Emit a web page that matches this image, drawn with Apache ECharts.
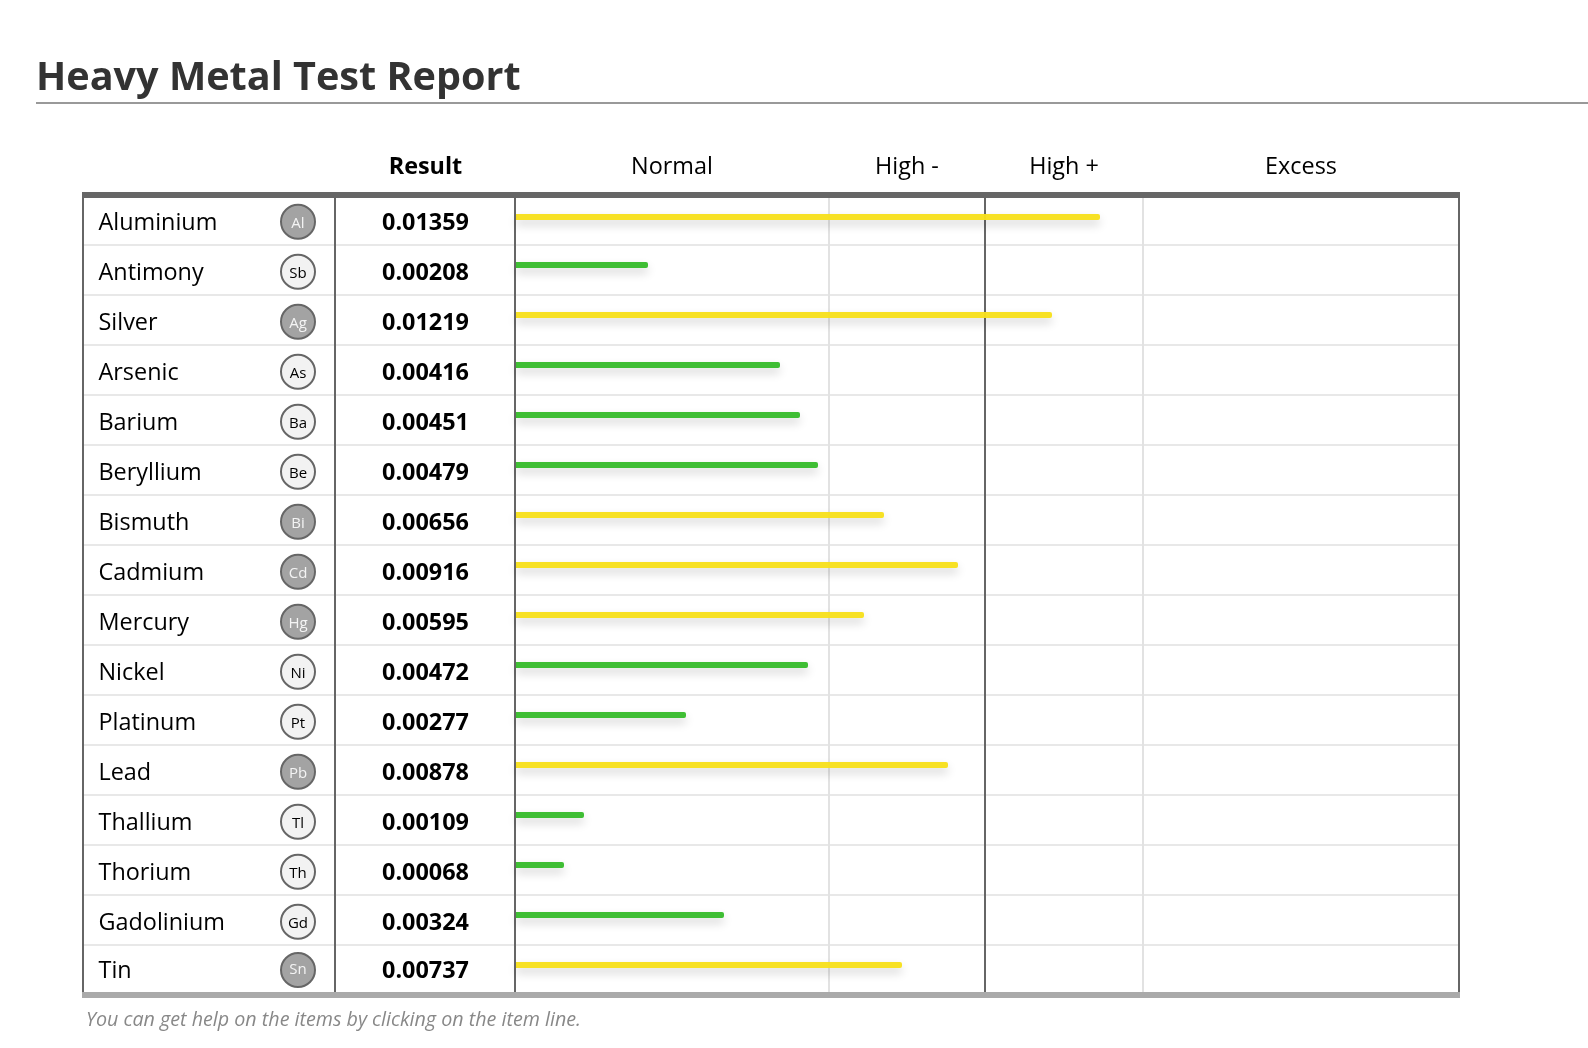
<!DOCTYPE html>
<html>
<head>
<meta charset="utf-8">
<style>html,body{margin:0;padding:0;background:#fff}#c{width:1588px;height:1048px}</style>
<script src="https://cdn.jsdelivr.net/npm/echarts@6/dist/echarts.min.js"></script>
</head>
<body>
<div id="c"></div>
<script>
const metals = ['Aluminium','Antimony','Silver','Arsenic','Barium','Beryllium','Bismuth','Cadmium','Mercury','Nickel','Platinum','Lead','Thallium','Thorium','Gadolinium','Tin'];
const symbols = ['Al','Sb','Ag','As','Ba','Be','Bi','Cd','Hg','Ni','Pt','Pb','Tl','Th','Gd','Sn'];
const results = ['0.01359','0.00208','0.01219','0.00416','0.00451','0.00479','0.00656','0.00916','0.00595','0.00472','0.00277','0.00878','0.00109','0.00068','0.00324','0.00737'];
// bar lengths, in units of the level scale below
const barLevels = [584,132,536,264,284,302,368,442,348,292,170,432,68,48,208,386];
const raised = [1,0,1,0,0,0,1,1,1,0,0,1,0,0,0,1];
const levelNames = ['Normal','High -','High +','Excess'];
const levelEdges = [0,314,470,628,944];
const levelCentres = [157,392,549,786];
const FONT = '"Open Sans"';
const DARK = '#666666', LIGHT = '#e2e2e2', SEP = '#e8e8e8';
const GREEN = '#37bb2c', YELLOW = '#f7e01c';
const TEXT_SIZE = 23.4;

const rows = metals.map((_, i) => i);
const lastRow = metals.length - 1;
const nudge = i => i === lastRow ? 0 : 1.7;
const textNudge = i => i === lastRow ? 1 : 3.4;
const NAME_COL = 16, SYMBOL_COL = 216, RESULT_COL = 343.5;

const barItem = i => ({ value: barLevels[i], itemStyle: { color: raised[i] ? YELLOW : GREEN } });
const barStyle = { opacity: 0.96, borderRadius: [0,2,2,0], shadowColor: 'rgba(0,0,0,0.18)', shadowBlur: 10, shadowOffsetY: 5 };
const hiddenAxis = { axisTick:{show:false}, axisLabel:{show:false}, axisLine:{show:false}, splitLine:{show:false} };
const sepAxis = (gridIndex) => ({
  type:'category', gridIndex, inverse:true, data:metals, z:0,
  axisTick:{show:false}, axisLabel:{show:false}, axisLine:{show:false},
  splitLine:{show:true, lineStyle:{color:SEP,width:2}}
});
const barLine = color => ({ show:true, onZero:false, lineStyle:{color, width:6, cap:'butt'} });

const option = {
  animation:false,
  backgroundColor:'#fff',
  title:[
    { text:'Heavy Metal Test Report', left:31, top:54, textStyle:{fontFamily:FONT,fontWeight:700,fontSize:39.6,color:'#333'} },
    { text:'You can get help on the items by clicking on the item line.', left:81, top:1005, textStyle:{fontFamily:FONT,fontWeight:400,fontStyle:'italic',fontSize:19.7,color:'#888'} }
  ],
  graphic:[{ type:'rect', shape:{x:36,y:102,width:1552,height:2}, style:{fill:'#999'}, silent:true }],
  grid:[
    { left:82, top:195, width:433, height:800 },
    { left:515, top:195, width:945, height:800 },
    { left:516, top:191, width:944, height:800 }
  ],
  xAxis:[
    { type:'value', gridIndex:0, position:'top', min:0, max:433, z:1, axisLine:barLine(DARK),
      axisTick:{show:false,customValues:[1,253,433]},
      splitLine:{show:true,showMinLine:true,showMaxLine:true,lineStyle:{color:DARK,width:2}},
      axisLabel:{show:true,customValues:[RESULT_COL],formatter:()=>'Result',margin:16,fontFamily:FONT,fontWeight:700,fontSize:TEXT_SIZE,color:'#000'} },
    { type:'value', gridIndex:0, position:'bottom', min:0, max:433, z:2, ...hiddenAxis, axisLine:barLine('#aaaaaa') },
    { type:'value', gridIndex:1, position:'top', min:0, max:945, z:1, axisLine:barLine(DARK),
      axisTick:{show:false,customValues:levelEdges},
      splitLine:{show:true,showMinLine:true,showMaxLine:true,lineStyle:{color:[DARK,LIGHT,DARK,LIGHT,DARK],width:2}},
      axisLabel:{show:true,customValues:levelCentres,formatter:v=>levelNames[levelCentres.indexOf(v)],margin:16,fontFamily:FONT,fontSize:TEXT_SIZE,color:'#000'} },
    { type:'value', gridIndex:1, position:'bottom', min:0, max:945, z:2, ...hiddenAxis, axisLine:barLine('#aaaaaa') },
    { type:'value', gridIndex:2, min:0, max:944, ...hiddenAxis }
  ],
  yAxis:[
    sepAxis(0),
    sepAxis(1),
    { type:'category', gridIndex:2, inverse:true, data:metals, ...hiddenAxis }
  ],
  series:[
    // Two bar series share the band: the gap setting puts the top row 2px lower, as in the reference.
    { type:'bar', name:'Level', xAxisIndex:4, yAxisIndex:2, barWidth:6, barGap:'-66.667%', z:3, itemStyle:barStyle,
      data:rows.map(i => i === 0 ? null : barItem(i)) },
    { type:'bar', name:'Level (first row)', xAxisIndex:4, yAxisIndex:2, barWidth:6, z:3, itemStyle:barStyle,
      data:rows.map(i => i === 0 ? barItem(i) : null) },
    { type:'scatter', name:'Metal', xAxisIndex:0, yAxisIndex:0, symbolSize:1, z:4,
      itemStyle:{color:'transparent',opacity:1},
      label:{show:true,position:'right',distance:0,fontFamily:FONT,fontSize:TEXT_SIZE,color:'#000'},
      data:rows.map(i => ({ value:[NAME_COL,i], label:{formatter:metals[i],offset:[0,textNudge(i)]} })) },
    { type:'scatter', name:'Symbol', xAxisIndex:0, yAxisIndex:0, symbol:'circle', symbolSize:34, z:4,
      data:rows.map(i => ({
        value:[SYMBOL_COL,i],
        symbolOffset:[0,nudge(i)],
        itemStyle:{opacity:1,color:raised[i]?'#a3a3a3':'#f2f2f2',borderColor:DARK,borderWidth:2},
        label:{show:true,position:'inside',formatter:symbols[i],offset:[0,nudge(i)],fontFamily:FONT,fontSize:15,color:raised[i]?'#f4f4f4':'#000'}
      })) },
    { type:'scatter', name:'Result', xAxisIndex:0, yAxisIndex:0, symbolSize:1, z:4,
      itemStyle:{color:'transparent',opacity:1},
      label:{show:true,position:'inside',fontFamily:FONT,fontWeight:700,fontSize:TEXT_SIZE,color:'#000'},
      data:rows.map(i => ({ value:[RESULT_COL,i], label:{formatter:results[i],offset:[0,textNudge(i)]} })) }
  ]
};
const chart = echarts.init(document.getElementById('c'), null, {renderer:'canvas'});
chart.setOption(option);
</script>
</body>
</html>
